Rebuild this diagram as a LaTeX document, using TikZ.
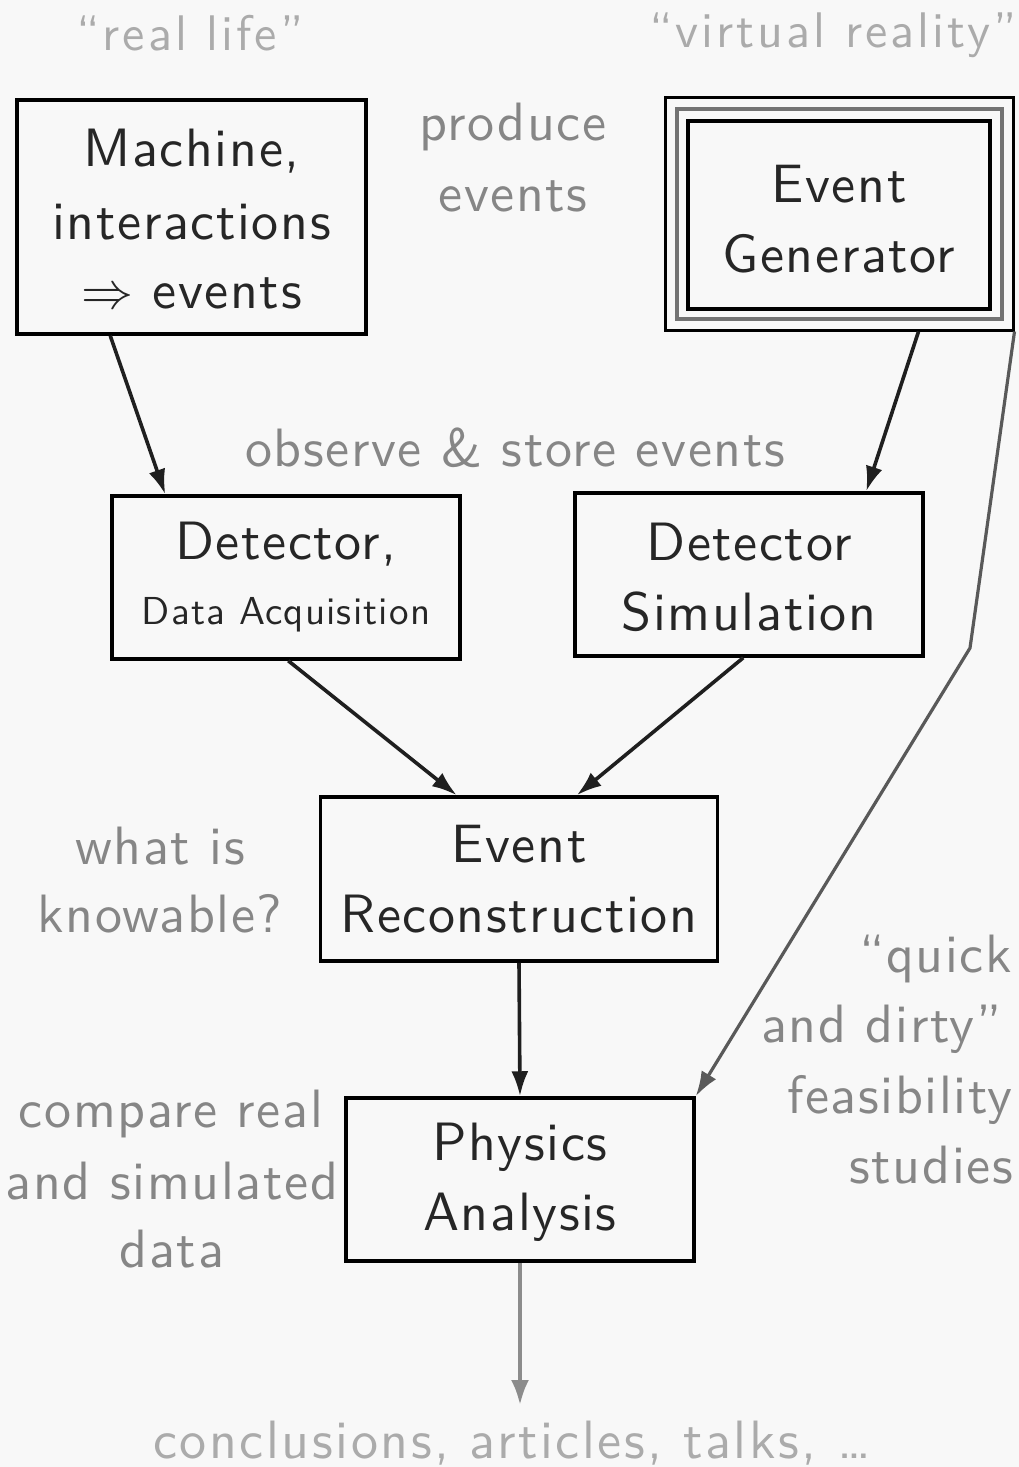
\documentclass[tikz,border=0pt]{standalone}
\usepackage{fontspec}
\usepackage{graphicx}
\usetikzlibrary{arrows.meta,calc}
\newfontfamily\mainsans{lmsans10-regular.otf}[LetterSpace=3.0]
\newfontfamily\topsans{lmsans10-regular.otf}[LetterSpace=6.0]
\newfontfamily\conclsans{lmsans10-regular.otf}[LetterSpace=4.8]
\newcommand{\bigimpl}{{\fontsize{10}{12}\selectfont\scalebox{5.2}{$\Rightarrow$}}}
\definecolor{boxtext}{HTML}{262626}
\definecolor{sidetext}{HTML}{868686}
\definecolor{toptext}{HTML}{ABABAB}
\definecolor{bg}{HTML}{F8F8F8}
\begin{document}
\begin{tikzpicture}[x=1pt,y=-1pt,
  big/.style={font=\mainsans\fontsize{54}{70}\selectfont},
  boxnode/.style={draw=black,line width=3.5pt,fill=bg,inner sep=0pt},
  inbox/.style={text=boxtext,big,anchor=base,inner sep=0pt},
  side/.style={text=sidetext,big,anchor=base,inner sep=0pt},
  top/.style={text=toptext,font=\topsans\fontsize{50}{60}\selectfont,anchor=base,inner sep=0pt},
  arr/.style={line width=3.6pt,draw=black!88,-{Latex[length=25pt,width=17pt]}},
  garr/.style={line width=3.2pt,draw=black!65,-{Latex[length=25pt,width=17pt]}},
  larr/.style={line width=4pt,draw=black!45,-{Latex[length=25pt,width=18pt]}}
]
\path[use as bounding box,fill=bg] (0,0) rectangle (1019,1467);

% boxes
\node[boxnode,minimum width=349pt,minimum height=234pt] (mach) at (191.5,217) {};
\node[inbox] (machA) at (191.5,166) {Machine,};
\node[inbox] (machB) at (191.5,239) {interactions};
\node[inbox] (machC) at (191.5,308) {\bigimpl\ events};

\node[draw=black,line width=3pt,fill=bg,minimum width=348pt,minimum height=233pt,inner sep=0pt] (egout) at (839,213.5) {};
\node[draw=black!55,line width=4pt,minimum width=325pt,minimum height=210pt,inner sep=0pt] (eggray) at (839,213.5) {};
\node[draw=black,line width=4.5pt,minimum width=302pt,minimum height=188pt,inner sep=0pt] (eg) at (839,215) {};
\node[inbox] (egA) at (839,202) {Event};
\node[inbox] (egB) at (839,272) {Generator};

\node[boxnode,minimum width=348pt,minimum height=163pt] (daq) at (286,577.5) {};
\node[inbox] (daqA) at (286,559) {Detector,};
\node[inbox,font=\mainsans\fontsize{39}{48}\selectfont] (daqB) at (286,624) {Data Acquisition};

\node[boxnode,minimum width=348pt,minimum height=163pt] (sim) at (749,574.5) {};
\node[inbox] (simA) at (749,560) {Detector};
\node[inbox] (simB) at (749,630) {Simulation};

\node[boxnode,minimum width=397pt,minimum height=164pt] (reco) at (519,879) {};
\node[inbox] (recoA) at (519,862) {Event};
\node[inbox] (recoB) at (519,932) {Reconstruction};

\node[boxnode,minimum width=348pt,minimum height=163pt] (phys) at (520,1179.5) {};
\node[inbox] (physA) at (520,1160) {Physics};
\node[inbox] (physB) at (520,1230) {Analysis};

% free labels
\node[top] (real) at (190,50) {“real life”};
\node[top] (virt) at (833,47) {“virtual reality”};
\node[side] (prodA) at (513,140) {produce};
\node[side] (prodB) at (513,211) {events};
\node[side] (obs) at (515,466) {observe \& store events};
\node[side] (whatA) at (160,864) {what is};
\node[side] (whatB) at (160,932) {knowable?};
\node[side] (cmpA) at (171,1127) {compare real};
\node[side] (cmpB) at (172,1199) {and simulated};
\node[side] (cmpC) at (172,1267) {data};
\node[side,anchor=base east] (qA) at (1012,972) {“quick};
\node[side,anchor=base east] (qB) at (1002,1042) {and dirty”};
\node[side,anchor=base east] (qC) at (1013,1113) {feasibility};
\node[side,anchor=base east] (qD) at (1013,1183) {studies};
\node[top,font=\conclsans\fontsize{54}{60}\selectfont] (concl) at (512,1458) {conclusions, articles, talks, \dots};

% connectors
\draw[arr] ([xshift=95pt]mach.south west) -- ([xshift=55pt]daq.north west);
\draw[arr] ([xshift=255pt]egout.south west) -- ([xshift=293pt]sim.north west);
\draw[arr] ([xshift=178pt]daq.south west) -- ([xshift=138pt]reco.north west);
\draw[arr] ([xshift=170pt]sim.south west) -- ([xshift=258pt]reco.north west);
\draw[arr] (reco.south) -- (phys.north);
\coordinate (kink) at (970,648);
\draw[garr,line join=round] (egout.south east) -- (kink) -- (phys.north east);
\coordinate (out) at (520,1405);
\draw[larr] (phys.south) -- (out);
\end{tikzpicture}
\end{document}
